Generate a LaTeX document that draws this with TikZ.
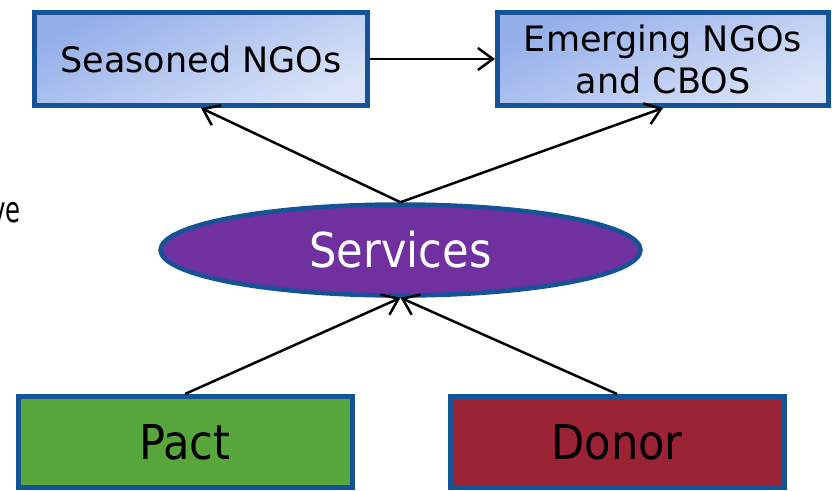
\documentclass[tikz,border=0pt]{standalone}
\usepackage{fontspec}
\setmainfont{DejaVu Sans}
\newfontfamily\condfont{DejaVu Sans Condensed}
\usetikzlibrary{shapes.geometric,arrows.meta}
\definecolor{bordblue}{RGB}{20,84,150}
\definecolor{gradA}{RGB}{148,174,234}
\definecolor{gradB}{RGB}{218,227,248}
\definecolor{svcpurple}{RGB}{112,48,160}
\definecolor{pactgreen}{RGB}{88,167,60}
\definecolor{donorred}{RGB}{155,35,54}
\tikzset{
  topbox/.style={draw=bordblue, line width=5pt, rectangle, inner sep=0pt,
    top color=gradA, bottom color=gradB, shading angle=25,
    minimum width=333pt, minimum height=93pt,
    font=\fontsize{35}{42}\selectfont, text=black},
  svcnode/.style={draw=bordblue, line width=4.5pt, ellipse, inner sep=0pt,
    fill=svcpurple, minimum width=480pt, minimum height=91pt,
    font=\condfont\fontsize{48}{56}\selectfont, text=white},
  botbox/.style={draw=bordblue, line width=5pt, rectangle, inner sep=0pt,
    minimum width=334pt, minimum height=91pt,
    font=\condfont\fontsize{48}{56}\selectfont, text=black},
  conn/.style={draw=black, line width=2.5pt, -{Straight Barb[length=15pt,width=22pt,line width=2.5pt]}}
}
\begin{document}
\begin{tikzpicture}[x=1pt,y=-1pt]
\useasboundingbox (0,0) rectangle (832,490);
\node[topbox] (sn) at (201,59) {Seasoned NGOs};
\node[topbox, align=center, minimum width=331pt] (em) at (663,59) {Emerging NGOs\\and CBOS};
\node[svcnode] (sv) at (400.5,250) {Services};
\node[botbox, fill=pactgreen] (pa) at (185,442) {Pact};
\node[botbox, fill=donorred] (do) at (617,442) {Donor};
\node[anchor=base east, inner sep=0pt, font=\condfont\fontsize{36}{42}\selectfont] (ve) at (21,222) {\scalebox{0.75}[1]{ve}};
\draw[conn] (sn.east) -- (em.west);
\draw[conn] (sv.north) -- (sn.south);
\draw[conn] (sv.north) -- (em.south);
\draw[conn] (pa.north) -- (sv.south);
\draw[conn] (do.north) -- (sv.south);
\end{tikzpicture}
\end{document}
